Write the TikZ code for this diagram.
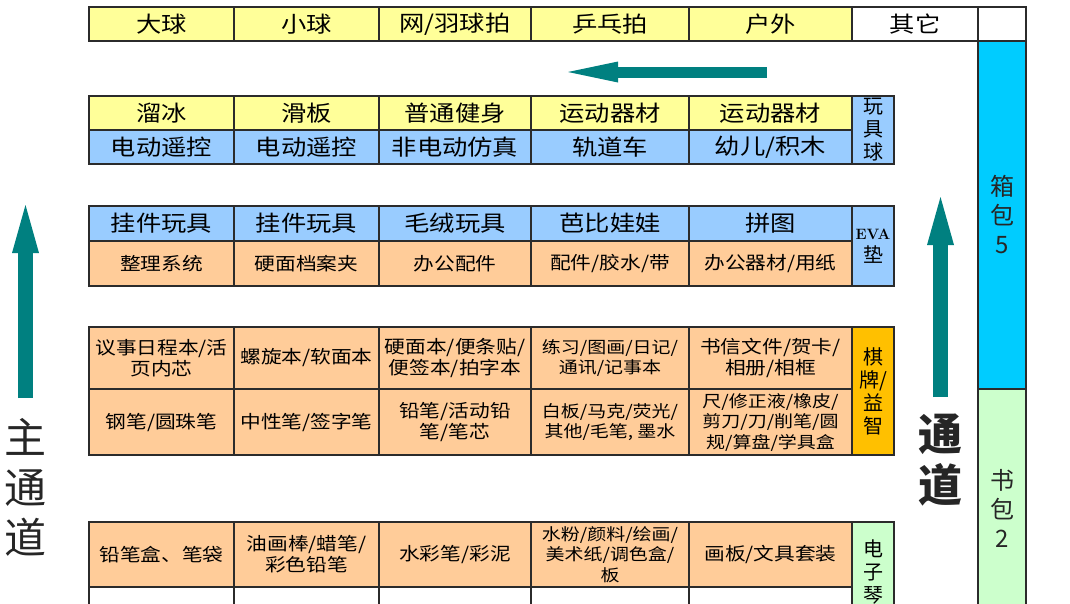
\documentclass[tikz,border=0pt]{standalone}
\usepackage{fontspec}
\usepackage{tikz}
\usetikzlibrary{arrows.meta}
\newfontfamily\cellfont[FakeStretch=1.15]{Noto Sans CJK SC}
\newfontfamily\tagfont{Noto Sans CJK SC}
\definecolor{ylw}{RGB}{255,255,153}
\definecolor{lblue}{RGB}{153,204,255}
\definecolor{peach}{RGB}{255,204,153}
\definecolor{gold}{RGB}{255,192,0}
\definecolor{bagcyan}{RGB}{0,204,255}
\definecolor{lgreen}{RGB}{204,255,204}
\definecolor{aisle}{RGB}{0,128,128}
\definecolor{gridc}{RGB}{43,43,43}

\begin{document}
\begin{tikzpicture}[x=1pt,y=-1pt,
        cell/.style={draw=gridc,line width=1.1pt,anchor=north west,inner sep=0pt,outer sep=0pt,align=center,font=\cellfont\fontsize{22}{24}\selectfont},
        note/.style={font=\cellfont\fontsize{18}{21}\selectfont},
        tiny/.style={font=\cellfont\fontsize{16.5}{20.5}\selectfont},
        side/.style={font=\tagfont\fontsize{20}{23}\selectfont},
        bag/.style={font=\tagfont\fontsize{24}{29}\selectfont,text=black!85},
        flow/.style={draw=aisle,-{Triangle[width=27pt,length=48pt,line width=0pt]}},
        big/.style={align=center,inner sep=0pt,text=black!85}]
        \clip (0,0) rectangle (1070,603);
        \fill[white] (0,0) rectangle (1070,603);

        \node[cell,fill=ylw,minimum width=145pt,minimum height=34pt] (dq) at (89,7) {大球};
        \node[cell,fill=ylw,minimum width=145pt,minimum height=34pt] (xq) at (234,7) {小球};
        \node[cell,fill=ylw,minimum width=152pt,minimum height=34pt] (wq) at (379,7) {网/羽球拍};
        \node[cell,fill=ylw,minimum width=158pt,minimum height=34pt] (pp) at (531,7) {乒乓拍};
        \node[cell,fill=ylw,minimum width=163pt,minimum height=34pt] (hw) at (689,7) {户外};
        \node[cell,fill=white,minimum width=126pt,minimum height=34pt] (qt) at (852,7) {其它};
        \node[cell,fill=white,minimum width=48pt,minimum height=34pt] (kb) at (978,7) {};

        \node[cell,fill=ylw,minimum width=145pt,minimum height=34pt] (lb) at (89,96) {溜冰};
        \node[cell,fill=ylw,minimum width=145pt,minimum height=34pt] (hb) at (234,96) {滑板};
        \node[cell,fill=ylw,minimum width=152pt,minimum height=34pt] (js) at (379,96) {普通健身};
        \node[cell,fill=ylw,minimum width=158pt,minimum height=34pt] (qca) at (531,96) {运动器材};
        \node[cell,fill=ylw,minimum width=163pt,minimum height=34pt] (qcb) at (689,96) {运动器材};
        \node[cell,fill=lblue,minimum width=145pt,minimum height=34pt] (yka) at (89,130) {电动遥控};
        \node[cell,fill=lblue,minimum width=145pt,minimum height=34pt] (ykb) at (234,130) {电动遥控};
        \node[cell,fill=lblue,minimum width=152pt,minimum height=34pt] (fz) at (379,130) {非电动仿真};
        \node[cell,fill=lblue,minimum width=158pt,minimum height=34pt] (gd) at (531,130) {轨道车};
        \node[cell,fill=lblue,minimum width=163pt,minimum height=34pt] (ye) at (689,130) {幼儿/积木};
        \node[cell,side,fill=lblue,minimum width=42pt,minimum height=68pt] (wjq) at (852,96) {玩\\具\\球};

        \node[cell,fill=lblue,minimum width=145pt,minimum height=35pt] (gja) at (89,206) {挂件玩具};
        \node[cell,fill=lblue,minimum width=145pt,minimum height=35pt] (gjb) at (234,206) {挂件玩具};
        \node[cell,fill=lblue,minimum width=152pt,minimum height=35pt] (mr) at (379,206) {毛绒玩具};
        \node[cell,fill=lblue,minimum width=158pt,minimum height=35pt] (bb) at (531,206) {芭比娃娃};
        \node[cell,fill=lblue,minimum width=163pt,minimum height=35pt] (pt) at (689,206) {拼图};
        \node[cell,note,fill=peach,minimum width=145pt,minimum height=45pt] (zl) at (89,241) {整理系统};
        \node[cell,note,fill=peach,minimum width=145pt,minimum height=45pt] (daj) at (234,241) {硬面档案夹};
        \node[cell,note,fill=peach,minimum width=152pt,minimum height=45pt] (bgpj) at (379,241) {办公配件};
        \node[cell,note,fill=peach,minimum width=158pt,minimum height=45pt] (jsd) at (531,241) {配件/胶水/带};
        \node[cell,note,fill=peach,minimum width=163pt,minimum height=45pt] (bgqc) at (689,241) {办公器材/用纸};
        \node[cell,side,fill=lblue,minimum width=42pt,minimum height=80pt] (eva) at (852,206) {{\rmfamily\bfseries\fontsize{15}{17}\selectfont EVA}\\垫};

        \node[cell,note,fill=peach,minimum width=145pt,minimum height=62pt] (rc) at (89,327) {议事日程本/活\\页内芯};
        \node[cell,note,fill=peach,minimum width=145pt,minimum height=62pt] (lx) at (234,327) {螺旋本/软面本};
        \node[cell,note,fill=peach,minimum width=152pt,minimum height=62pt] (ym) at (379,327) {硬面本/便条贴/\\便签本/拍字本};
        \node[cell,tiny,fill=peach,minimum width=158pt,minimum height=62pt] (lxb) at (531,327) {练习/图画/日记/\\通讯/记事本};
        \node[cell,note,fill=peach,minimum width=163pt,minimum height=62pt] (sx) at (689,327) {书信文件/贺卡/\\相册/相框};
        \node[cell,note,fill=peach,minimum width=145pt,minimum height=66pt] (gb) at (89,389) {钢笔/圆珠笔};
        \node[cell,note,fill=peach,minimum width=145pt,minimum height=66pt] (zx) at (234,389) {中性笔/签字笔};
        \node[cell,note,fill=peach,minimum width=152pt,minimum height=66pt] (qb) at (379,389) {铅笔/活动铅\\笔/笔芯};
        \node[cell,tiny,fill=peach,minimum width=158pt,minimum height=66pt] (bbm) at (531,389) {白板/马克/荧光/\\其他/毛笔, 墨水};
        \node[cell,tiny,fill=peach,minimum width=163pt,minimum height=66pt] (xz) at (689,389) {尺/修正液/橡皮/\\剪刀/刀/削笔/圆\\规/算盘/学具盒};
        \node[cell,side,fill=gold,minimum width=42pt,minimum height=128pt] (qp) at (852,327) {棋\\牌/\\益\\智};

        \node[cell,note,fill=peach,minimum width=145pt,minimum height=65pt] (bd) at (89,522) {铅笔盒、笔袋};
        \node[cell,note,fill=peach,minimum width=145pt,minimum height=65pt] (yh) at (234,522) {油画棒/蜡笔/\\彩色铅笔};
        \node[cell,note,fill=peach,minimum width=152pt,minimum height=65pt] (sc) at (379,522) {水彩笔/彩泥};
        \node[cell,tiny,fill=peach,minimum width=158pt,minimum height=65pt] (sf) at (531,522) {水粉/颜料/绘画/\\美术纸/调色盒/\\板};
        \node[cell,note,fill=peach,minimum width=163pt,minimum height=65pt] (hbt) at (689,522) {画板/文具套装};
        \node[cell,side,fill=lgreen,minimum width=42pt,minimum height=100pt] (dzq) at (852,522) {电\\子\\琴};
        \node[cell,fill=white,minimum width=145pt,minimum height=40pt] (ea) at (89,587) {};
        \node[cell,fill=white,minimum width=145pt,minimum height=40pt] (eb) at (234,587) {};
        \node[cell,fill=white,minimum width=152pt,minimum height=40pt] (ec) at (379,587) {};
        \node[cell,fill=white,minimum width=158pt,minimum height=40pt] (ed) at (531,587) {};
        \node[cell,fill=white,minimum width=163pt,minimum height=40pt] (ee) at (689,587) {};

        \node[cell,bag,fill=bagcyan,minimum width=48pt,minimum height=348pt] (xb) at (978,41) {箱\\包\\5};
        \node[cell,bag,fill=lgreen,minimum width=48pt,minimum height=238pt] (sb) at (978,389) {书\\包\\2};

        \coordinate (ta) at (767,72);
        \coordinate (tb) at (568,72);
        \draw[flow,line width=11pt,-{Triangle[width=21pt,length=50pt,line width=0pt]}] (ta) -- (tb);
        \coordinate (za) at (25.5,398);
        \coordinate (zb) at (25.5,205);
        \draw[flow,line width=15pt] (za) -- (zb);
        \coordinate (ra) at (940.5,397);
        \coordinate (rb) at (940.5,197);
        \draw[flow,line width=15pt] (ra) -- (rb);

        \node[big,font=\tagfont\fontsize{42}{50}\selectfont] (zhu) at (25.5,487) {主\\通\\道};
        \node[big,font=\tagfont\bfseries\fontsize{44}{51}\selectfont] (tong) at (940.5,460) {通\\道};
    \end{tikzpicture}
\end{document}
